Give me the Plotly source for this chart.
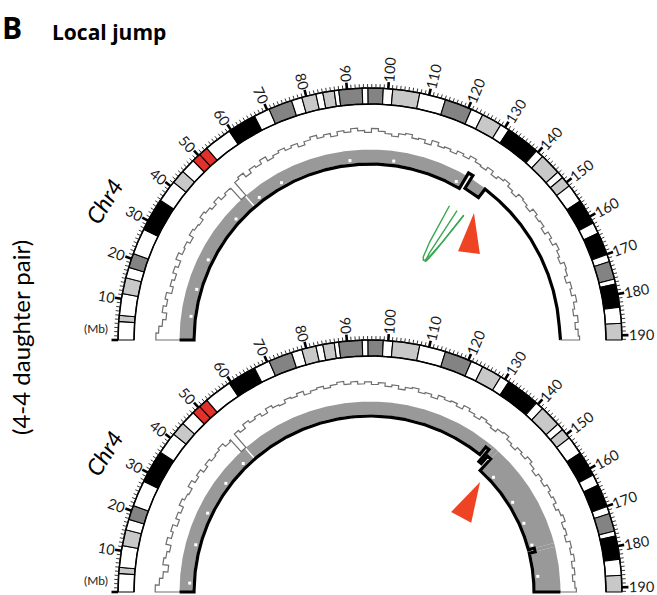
import numpy as np
import plotly.graph_objects as go

W, H = 657, 595
CX = 370.0
PANEL_CY = [340.0, 592.0]          # centre of each half-circle (top, bottom)

CHR_LEN = 191.154276               # chr4 length, Mb

# ---- chr4 cytobands (start in Mb, Giemsa stain) ----
BAND_START = [0.0, 4.5, 6.0, 11.3, 15.2, 17.8, 21.3, 27.7, 35.8, 41.2, 44.6, 48.2,
              50.4, 52.7, 59.5, 66.6, 70.5, 76.3, 78.9, 82.4, 84.1, 86.9, 88.0,
              93.7, 95.1, 98.8, 101.1, 107.7, 114.1, 120.8, 123.8, 128.8, 131.1,
              139.5, 141.5, 146.8, 148.5, 151.1, 155.6, 161.8, 164.5, 170.1,
              171.9, 176.3, 177.5, 183.2, 187.1]
BAND_STAIN = ["gneg", "gpos25", "gneg", "gpos50", "gneg", "gpos75", "gneg", "gpos100",
              "gneg", "gpos50", "gneg", "acen", "acen", "gneg", "gpos100", "gneg",
              "gpos75", "gneg", "gpos50", "gneg", "gpos25", "gneg", "gpos75", "gneg",
              "gpos75", "gneg", "gpos50", "gneg", "gpos75", "gneg", "gpos50", "gneg",
              "gpos100", "gneg", "gpos25", "gneg", "gpos25", "gneg", "gpos100", "gneg",
              "gpos100", "gneg", "gpos75", "gneg", "gpos100", "gneg", "gpos25"]
STAIN_COLOR = {"gneg": "#ffffff", "gpos25": "#c8c8c8", "gpos50": "#c8c8c8",
               "gpos75": "#838383", "gpos100": "#000000", "acen": "#e2302a"}

TICK_MB = list(range(0, 200, 10))[:20]
TICK_LABELS = ["(Mb)"] + [str(v) for v in range(10, 200, 10)]

# ---- segmented copy number (breakpoints in Mb, relative CN per segment) ----
TOP_CN_BREAKS = [0.0, 128.0, 129.6, 135.2, CHR_LEN]
TOP_CN = [2.0, 3.5, 2.25, 3.15]
BOTTOM_CN_BREAKS = [0.0, 136.6, 137.9, 139.0, 140.4, 175.3, 176.6, CHR_LEN]
BOTTOM_CN = [2.0, 2.8, 1.5, 2.3, 1.0, 1.5, 1.0]

# ---- read depth in 2-Mb bins (normalised) ----
DEPTH_BIN = 2.0
TOP_DEPTH = [1.11, 1.07, 1.02, 0.97, 1.04, 0.99, 1.03, 0.95, 1.00, 0.96,
             1.02, 0.97, 1.05, 0.99, 1.01, 0.96, 1.03, 1.00, 0.98, 1.04,
             1.01, 0.97, 1.02, 0.96, 0.99, 0.98, 1.01, 1.04, 0.97, 1.03,
             1.00, 1.06, 0.99, 1.02, 1.05, 1.01, 1.04, 0.98, 1.03, 1.07,
             1.02, 1.05, 1.00, 1.06, 1.03, 1.08, 1.04, 1.01, 1.07, 1.03,
             1.00, 0.97, 1.02, 1.04, 0.99, 1.01, 0.96, 1.03, 0.98, 1.00,
             0.97, 1.02, 0.99, 1.04, 1.00, 0.98, 1.03, 0.97, 1.01, 1.04,
             0.99, 0.96, 1.02, 1.00, 0.97, 1.03, 0.99, 1.01, 0.96, 1.02,
             0.98, 1.04, 1.00, 0.97, 1.03, 1.01, 0.96, 1.02, 0.99, 1.05,
             1.00, 0.97, 1.03, 0.98, 1.02, 1.04]
BOTTOM_DEPTH = [1.12, 1.06, 1.01, 0.94, 1.03, 1.00, 0.96, 1.04, 0.98, 1.02,
                0.95, 1.01, 0.97, 1.04, 1.00, 0.98, 1.05, 0.99, 1.03, 0.97,
                1.02, 0.98, 1.00, 1.03, 0.97, 0.99, 1.02, 0.98, 1.05, 1.01,
                1.04, 0.99, 1.06, 1.02, 1.00, 1.05, 1.03, 1.07, 1.01, 1.04,
                1.06, 1.02, 1.05, 1.08, 1.03, 1.06, 1.02, 1.05, 1.01, 1.04,
                0.99, 1.02, 0.97, 1.01, 1.03, 0.98, 1.00, 0.96, 1.02, 0.99,
                1.01, 0.97, 1.03, 0.99, 0.96, 1.01, 0.98, 0.95, 1.00, 1.02,
                0.97, 0.94, 0.99, 0.96, 1.01, 0.97, 0.93, 0.98, 0.95, 1.00,
                0.96, 0.99, 0.94, 0.98, 1.01, 0.95, 0.97, 0.93, 0.99, 0.96,
                1.00, 0.95, 0.98, 0.94, 0.97, 0.99]
CENTROMERE_GAP = (50.4, 52.4)      # no depth data here
BAND_GAP = (51.9, 52.4)

# positions (Mb) where the ratio track has drop-outs
TOP_DROPOUT = [8.0, 17.3, 28.0, 44.7, 55.4, 64.4, 88.8, 103.6, 125.9]
BOTTOM_DROPOUT = [3.0, 16.1, 27.5, 39.3, 48.2, 145.6, 157.0, 165.6, 174.0, 185.5]

# structural-variant links (Mb pairs), top panel only
LINKS = [(128.1, 134.8), (131.6, 134.8)]

# ---- radial layout ----
R_RING_IN, R_RING_OUT = 236.0, 252.0
R_LABEL = 259.0
R_BAND_OUT = 190.5
CN_R0, CN_K = 152.0, 12.0
R_DEPTH, DEPTH_K = 207.0, 65.0
R_LINK, R_LINK_CTRL = 156.0, 36.0


def polar(cy, pos, r):
    th = np.pi * (1.0 - np.asarray(pos, dtype=float) / CHR_LEN)
    return CX + r * np.cos(th), cy - r * np.sin(th)


def arc(cy, p0, p1, r, step=0.2):
    n = max(2, int(abs(p1 - p0) / step) + 2)
    ps = np.linspace(p0, p1, n)
    x, y = polar(cy, ps, r)
    return list(x), list(y)


def sector(cy, p0, p1, r_in, r_out):
    xo, yo = arc(cy, p0, p1, r_out)
    xi, yi = arc(cy, p1, p0, r_in)
    return xo + xi + [xo[0]], yo + yi + [yo[0]]


def path_str(xs, ys):
    pts = [f"{x:.2f},{y:.2f}" for x, y in zip(xs, ys)]
    return "M " + " L ".join(pts) + " Z"


fig = go.Figure()
shapes = []
annotations = []

band_end = BAND_START[1:] + [CHR_LEN]

for pi, cy in enumerate(PANEL_CY):
    # ---------- ideogram ring ----------
    for s, e, st in zip(BAND_START, band_end, BAND_STAIN):
        xs, ys = sector(cy, s, e, R_RING_IN, R_RING_OUT)
        shapes.append(dict(type="path", path=path_str(xs, ys), xref="x", yref="y",
                           fillcolor=STAIN_COLOR[st], line=dict(color="black", width=1.1),
                           layer="below"))
    for r in (R_RING_IN, R_RING_OUT):
        xs, ys = arc(cy, 0, CHR_LEN, r)
        fig.add_trace(go.Scatter(x=xs, y=ys, mode="lines",
                                 line=dict(color="black", width=1.5), hoverinfo="skip"))

    # ---------- ticks ----------
    mx, my = [], []
    for v in range(0, 192):
        if v % 10 == 0:
            continue
        x0, y0 = polar(cy, v, R_RING_OUT)
        x1, y1 = polar(cy, v, R_RING_OUT + 4)
        mx += [x0, x1, None]
        my += [y0, y1, None]
    fig.add_trace(go.Scatter(x=mx, y=my, mode="lines",
                             line=dict(color="#222222", width=0.9), hoverinfo="skip"))
    jx, jy = [], []
    for v in TICK_MB:
        x0, y0 = polar(cy, v, R_RING_OUT)
        x1, y1 = polar(cy, v, R_RING_OUT + 6.5)
        jx += [x0, x1, None]
        jy += [y0, y1, None]
    fig.add_trace(go.Scatter(x=jx, y=jy, mode="lines",
                             line=dict(color="black", width=2.6), hoverinfo="skip"))

    for v, lab in zip(TICK_MB, TICK_LABELS):
        if v == 0:
            x0, y0 = polar(cy, 0, R_RING_OUT)
            annotations.append(dict(x=x0 - 22, y=y0 - 12, text=lab, showarrow=False,
                                    font=dict(family="Lato", size=12, color="#222"),
                                    xref="x", yref="y"))
            continue
        ang = 180.0 * (1 - v / CHR_LEN)
        tang = -ang if ang <= 90 else 180.0 - ang
        w = len(lab) * 7.4
        lx, ly = polar(cy, v, R_LABEL + w / 2 + 1)
        annotations.append(dict(x=float(lx), y=float(ly), text=lab, showarrow=False,
                                textangle=tang, xanchor="center", yanchor="middle",
                                font=dict(family="Lato", size=14.5, color="#1a1a1a"),
                                xref="x", yref="y"))

    # ---------- copy-number track ----------
    breaks = TOP_CN_BREAKS if pi == 0 else BOTTOM_CN_BREAKS
    cns = TOP_CN if pi == 0 else BOTTOM_CN
    radii = [CN_R0 + CN_K * c for c in cns]

    # grey ratio band between the segment line and the outer bound
    for s, e, r in zip(breaks[:-1], breaks[1:], radii):
        if r + 1.5 >= R_BAND_OUT:
            continue
        pieces = [(s, e)]
        if s < BAND_GAP[0] and e > BAND_GAP[1]:
            pieces = [(s, BAND_GAP[0]), (BAND_GAP[1], e)]
        for a, b in pieces:
            xs, ys = sector(cy, a, b, r + 1.5, R_BAND_OUT)
            fig.add_trace(go.Scatter(x=xs, y=ys, mode="lines", fill="toself",
                                     fillcolor="#999999", line=dict(width=0),
                                     hoverinfo="skip"))
    # drop-out specks
    drops = TOP_DROPOUT if pi == 0 else BOTTOM_DROPOUT
    dx, dy = [], []
    for p in drops:
        k = max(i for i in range(len(cns)) if breaks[i] <= p)
        x, y = polar(cy, p, radii[k] + 4.5)
        dx.append(float(x))
        dy.append(float(y))
    fig.add_trace(go.Scatter(x=dx, y=dy, mode="markers",
                             marker=dict(symbol="square", size=3, color="white"),
                             hoverinfo="skip"))

    # black segment line
    lx, ly = [], []
    x0, y0 = polar(cy, 0, R_BAND_OUT)
    lx.append(float(x0))
    ly.append(float(y0))
    for s, e, r in zip(breaks[:-1], breaks[1:], radii):
        xs, ys = arc(cy, s, e, r)
        lx += xs
        ly += ys
    x1, y1 = polar(cy, CHR_LEN, R_BAND_OUT)
    lx.append(float(x1))
    ly.append(float(y1))
    fig.add_trace(go.Scatter(x=lx, y=ly, mode="lines",
                             line=dict(color="black", width=3.2), hoverinfo="skip"))

    # ---------- read-depth step line ----------
    depth = TOP_DEPTH if pi == 0 else BOTTOM_DEPTH
    edges = sorted(set([min(i * DEPTH_BIN, CHR_LEN) for i in range(len(depth) + 1)]
                       + list(CENTROMERE_GAP)))
    cx_, cy_ = [], []
    x0, y0 = polar(cy, 0, R_BAND_OUT)
    cx_.append(float(x0))
    cy_.append(float(y0))
    for a, b in zip(edges[:-1], edges[1:]):
        if b <= a:
            continue
        mid = 0.5 * (a + b)
        if CENTROMERE_GAP[0] <= mid <= CENTROMERE_GAP[1]:
            r = R_BAND_OUT
        else:
            r = R_DEPTH + DEPTH_K * (depth[min(int(mid // DEPTH_BIN), len(depth) - 1)] - 1)
        xs, ys = arc(cy, a, b, r, step=0.4)
        cx_ += xs
        cy_ += ys
    x1, y1 = polar(cy, CHR_LEN, R_BAND_OUT)
    cx_.append(float(x1))
    cy_.append(float(y1))
    fig.add_trace(go.Scatter(x=cx_, y=cy_, mode="lines",
                             line=dict(color="#6e6e6e", width=1.2), hoverinfo="skip"))

    # Chr4 label
    annotations.append(dict(x=104, y=cy - 139, text="<i>Chr4</i>", showarrow=False,
                            textangle=-58, font=dict(family="Lato", size=23, color="black"),
                            xref="x", yref="y"))

# ---------- SV links (top panel) ----------
cy = PANEL_CY[0]
for a, b in LINKS:
    p0 = np.array(polar(cy, a, R_LINK))
    p2 = np.array(polar(cy, b, R_LINK))
    c = np.array(polar(cy, 0.5 * (LINKS[0][0] + LINKS[0][1]), R_LINK_CTRL))
    t = np.linspace(0, 1, 80)[:, None]
    pts = (1 - t) ** 2 * p0 + 2 * (1 - t) * t * c + t ** 2 * p2
    fig.add_trace(go.Scatter(x=pts[:, 0], y=pts[:, 1], mode="lines",
                             line=dict(color="#3aa851", width=1.4), hoverinfo="skip"))


# ---------- red arrowheads marking the jump ----------
def arrowhead(cy, pos, r_tip, direction_deg, length, half_w):
    tx, ty = polar(cy, pos, r_tip)
    d = np.radians(direction_deg)
    ux, uy = np.cos(d), -np.sin(d)
    bx, by = tx - length * ux, ty - length * uy
    nx, ny = -uy, ux
    xs = [tx, bx + half_w * nx, bx - half_w * nx, tx]
    ys = [ty, by + half_w * ny, by - half_w * ny, ty]
    return [float(v) for v in xs], [float(v) for v in ys]


for cy, pos, rt, dd, ln, hw in [(PANEL_CY[0], 137.3, 164.2, 82.8, 40, 11),
                                (PANEL_CY[1], 143.4, 155.6, 61.8, 40, 11.4)]:
    xs, ys = arrowhead(cy, pos, rt, dd, ln, hw)
    fig.add_trace(go.Scatter(x=xs, y=ys, mode="lines", fill="toself",
                             fillcolor="#ef4424", line=dict(width=0), hoverinfo="skip"))

# ---------- titles ----------
annotations += [
    dict(x=0, y=27, text="<b>B</b>", showarrow=False, xanchor="left",
         font=dict(family="Open Sans", size=30, color="black"), xref="paper", yref="y"),
    dict(x=50, y=32, text="<b>Local jump</b>", showarrow=False, xanchor="left",
         font=dict(family="Open Sans", size=21, color="black"), xref="x", yref="y"),
    dict(x=20, y=338, text="(4-4 daughter pair)", showarrow=False, textangle=-90,
         font=dict(family="Lato", size=24, color="black"), xref="x", yref="y"),
]

fig.update_layout(
    width=W, height=H, margin=dict(l=0, r=0, t=0, b=0),
    paper_bgcolor="white", plot_bgcolor="white", showlegend=False,
    xaxis=dict(range=[0, W], visible=False, fixedrange=True),
    yaxis=dict(range=[H, 0], visible=False, fixedrange=True),
    shapes=shapes, annotations=annotations,
)

fig.write_html("out.html")
